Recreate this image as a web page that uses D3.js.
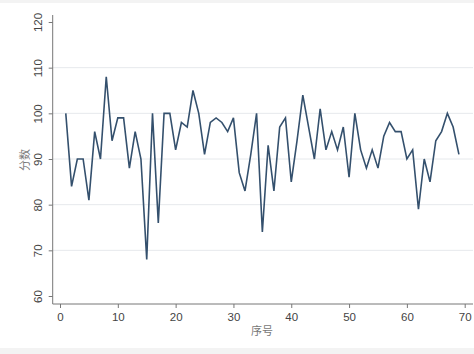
<!DOCTYPE html>
<html>
<head>
<meta charset="utf-8">
<script src="https://cdn.jsdelivr.net/npm/d3@7/dist/d3.min.js"></script>
<style>
  html, body { margin: 0; padding: 0; background: #ffffff; }
  svg { display: block; }
</style>
</head>
<body>
<svg id="chart" width="474" height="354"></svg>
<script>
// ---- data ----
const seq = d3.range(1, 70); // 序号 1..69
const scores = [
  100, 84, 90, 90, 81, 96, 90, 108, 94, 99,
  99, 88, 96, 90, 68, 100, 76, 100, 100, 92,
  98, 97, 105, 100, 91, 98, 99, 98, 96, 99,
  87, 83, 91, 100, 74, 93, 83, 97, 99, 85,
  94, 104, 97, 90, 101, 92, 96, 92, 97, 86,
  100, 92, 88, 92, 88, 95, 98, 96, 96, 90,
  92, 79, 90, 85, 94, 96, 100, 97, 91
];
const xTicks = [0, 10, 20, 30, 40, 50, 60, 70];
const yTicks = [60, 70, 80, 90, 100, 110, 120];
const gridTicks = [70, 80, 90, 100, 110];
const xTitle = "序号";
const yTitle = "分数";

const data = seq.map((s, i) => ({ x: s, y: scores[i] }));

const svg = d3.select("#chart");
const W = 474, H = 354;

// light frame bands
svg.append("rect").attr("x", 0).attr("y", 0).attr("width", W).attr("height", 3).attr("fill", "#f3f3f3");
svg.append("rect").attr("x", 0).attr("y", 348).attr("width", W).attr("height", 6).attr("fill", "#f3f3f3");

const x = d3.scaleLinear().domain([0, 70]).range([60, 464.7]);
const y = d3.scaleLinear().domain([60, 120]).range([296, 22]);

const axisLeftX = 52.7, axisBottomY = 304, plotRight = 473, plotTop = 15;

// gridlines
svg.append("g").selectAll("line").data(gridTicks).join("line")
  .attr("x1", axisLeftX).attr("x2", plotRight)
  .attr("y1", d => y(d)).attr("y2", d => y(d))
  .attr("stroke", "#e6e9ec").attr("stroke-width", 1);

// y axis
const gy = svg.append("g").attr("transform", `translate(${axisLeftX},0)`)
  .call(d3.axisLeft(y).tickValues(yTicks).tickSize(4).tickPadding(2).tickSizeOuter(0));
gy.select(".domain").remove();
gy.selectAll(".tick line").attr("stroke", "#777");
gy.selectAll(".tick text")
  .attr("transform", "rotate(-90)")
  .attr("x", 0).attr("y", -11)
  .attr("dy", "0")
  .attr("text-anchor", "middle")
  .attr("font-family", "Liberation Sans, Arial, sans-serif")
  .attr("font-size", 11.5)
  .attr("fill", "#444");
svg.append("line").attr("x1", axisLeftX).attr("x2", axisLeftX)
  .attr("y1", plotTop).attr("y2", axisBottomY).attr("stroke", "#777").attr("stroke-width", 1);

// x axis
const gx = svg.append("g").attr("transform", `translate(0,${axisBottomY})`)
  .call(d3.axisBottom(x).tickValues(xTicks).tickSize(4).tickPadding(5).tickSizeOuter(0));
gx.select(".domain").remove();
gx.selectAll(".tick line").attr("stroke", "#777");
gx.selectAll(".tick text")
  .attr("font-family", "Liberation Sans, Arial, sans-serif")
  .attr("font-size", 11.5)
  .attr("fill", "#444");
svg.append("line").attr("x1", axisLeftX).attr("x2", plotRight)
  .attr("y1", axisBottomY).attr("y2", axisBottomY).attr("stroke", "#777").attr("stroke-width", 1);

// titles
svg.append("text").attr("x", 262).attr("y", 335)
  .attr("text-anchor", "middle")
  .attr("font-family", "Noto Sans CJK SC, sans-serif")
  .attr("font-size", 11).attr("fill", "#777").text(xTitle);
svg.append("text")
  .attr("transform", `translate(29,160) rotate(-90)`)
  .attr("text-anchor", "middle")
  .attr("font-family", "Noto Sans CJK SC, sans-serif")
  .attr("font-size", 11).attr("fill", "#777").text(yTitle);

// line
const line = d3.line().x(d => x(d.x)).y(d => y(d.y));
svg.append("path").datum(data)
  .attr("d", line)
  .attr("fill", "none")
  .attr("stroke", "#34506d")
  .attr("stroke-width", 1.6)
  .attr("stroke-linejoin", "miter");
</script>
</body>
</html>
